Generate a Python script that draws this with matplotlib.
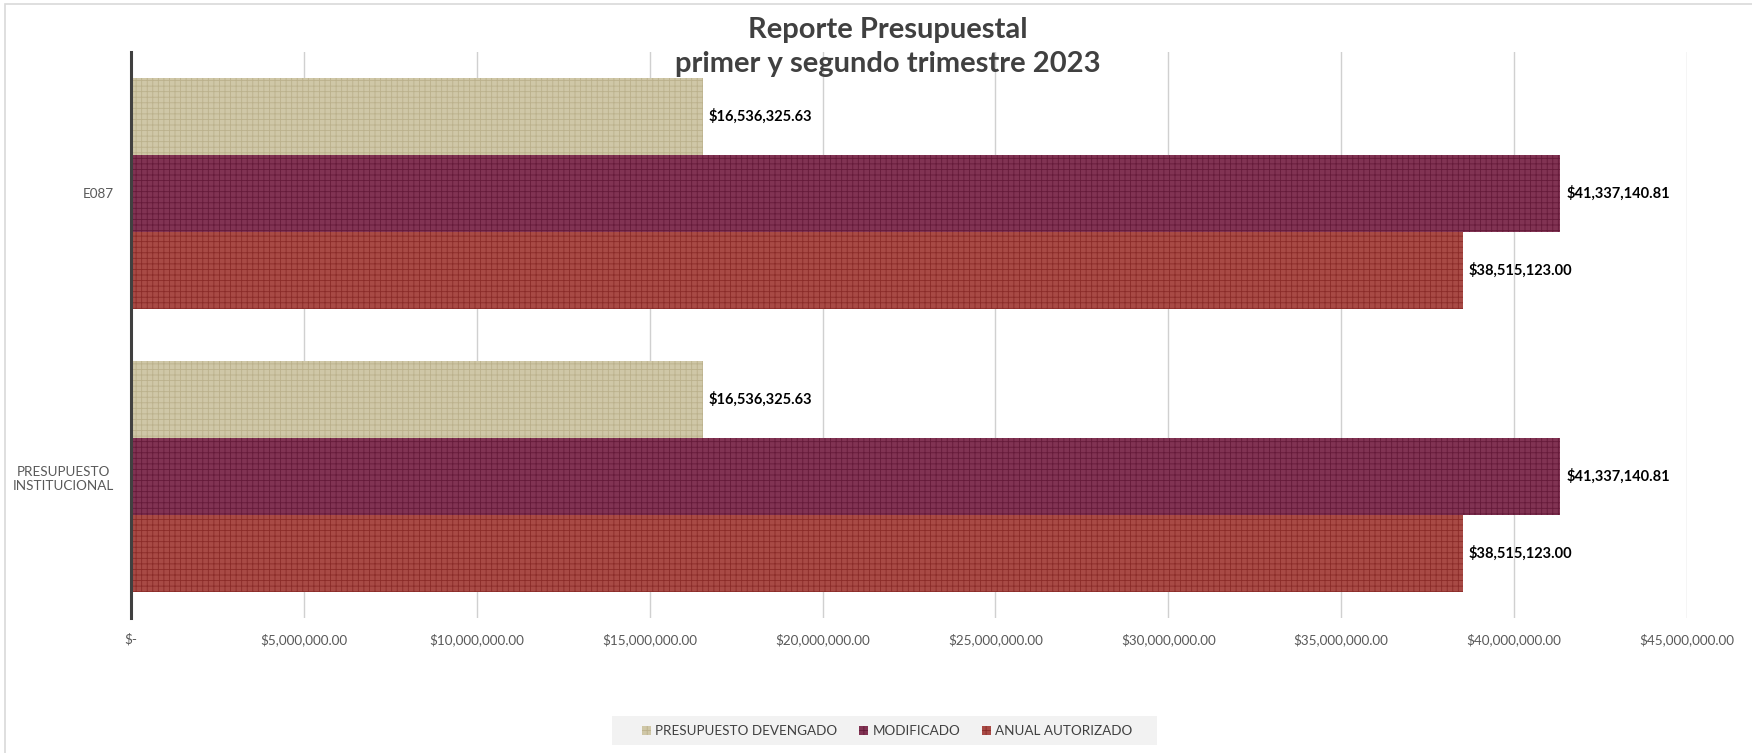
import numpy as np
import matplotlib
matplotlib.use("Agg")
import matplotlib.pyplot as plt
from matplotlib.patches import Patch, Rectangle

# data
categories = ["PRESUPUESTO\nINSTITUCIONAL", "E087"]
series_names = ["PRESUPUESTO DEVENGADO", "MODIFICADO", "ANUAL AUTORIZADO"]
devengado = [16536325.63, 16536325.63]
modificado = [41337140.81, 41337140.81]
anual_autorizado = [38515123.00, 38515123.00]
x_ticks = [0, 5e6, 10e6, 15e6, 20e6, 25e6, 30e6, 35e6, 40e6, 45e6]

# face colour, hatch colour
face_colors = ["#CFC7A7", "#813353", "#A84A45"]
hatch_colors = ["#BBB18C", "#651A39", "#8A2B28"]

plt.rcParams['font.family'] = ['Lato', 'DejaVu Sans']
plt.rcParams['hatch.linewidth'] = 0.6

fig = plt.figure(figsize=(17.52, 7.53), dpi=100)
ax = fig.add_axes([131/1752, 135/753, 1556/1752, 566/753])

y = np.arange(len(categories))
h = 0.272
values = [devengado, modificado, anual_autorizado]
offsets = [h, 0, -h]

for vals, off, fc, hc in zip(values, offsets, face_colors, hatch_colors):
    bars = ax.barh(y + off, vals, height=h, color=fc, edgecolor=hc,
                   hatch='+++', linewidth=0, zorder=2)
    for b, v in zip(bars, vals):
        ax.annotate(f"${v:,.2f}", (v, b.get_y() + b.get_height()/2),
                    xytext=(4.5, 0), textcoords='offset points',
                    va='center', ha='left', fontsize=10.5,
                    fontweight='bold', color='black')

ax.set_xlim(0, 45e6)
ax.set_ylim(-0.5, 1.5)
ax.set_xticks(x_ticks)
ax.set_xticklabels(["$-" if t == 0 else f"${t:,.2f}" for t in x_ticks])
ax.set_yticks(y)
ax.set_yticklabels(categories, multialignment='center')
ax.tick_params(axis='both', length=0, labelsize=9.7, labelcolor='#595959')
ax.tick_params(axis='x', pad=11)
ax.tick_params(axis='y', pad=12)

ax.grid(axis='x', color='#D0D0D0', linewidth=1, zorder=0)
ax.set_axisbelow(True)
for s in ['top', 'right', 'bottom']:
    ax.spines[s].set_visible(False)
ax.spines['left'].set_color('#404040')
ax.spines['left'].set_linewidth(2.2)
ax.spines['left'].set_zorder(3)

fig.text(0.507, 1 - 47/753, "Reporte Presupuestal\nprimer y segundo trimestre 2023",
         ha='center', va='center', fontsize=21, fontweight='bold',
         color='#404040', linespacing=1.38)

# legend background band
fig.patches.append(Rectangle((612/1752, 8/753), 545/1752, 29/753,
                             transform=fig.transFigure, facecolor='#F2F2F2',
                             edgecolor='none', zorder=0))
handles = [Patch(facecolor=fc, edgecolor=hc, hatch='+++', linewidth=0)
           for fc, hc in zip(face_colors, hatch_colors)]
leg = fig.legend(handles, series_names, loc='center',
                 bbox_to_anchor=(887/1752, 22/753), ncol=3, fontsize=9.7,
                 frameon=False, handlelength=0.7,
                 handleheight=0.7, handletextpad=0.3, columnspacing=1.6,
                 borderpad=0.3)
for t in leg.get_texts():
    t.set_color('#404040')

# chart area border (cropped at right and bottom)
fig.patches.append(Rectangle((5/1752, -0.1), 1.2, 1 - 4/753 + 0.1,
                             transform=fig.transFigure, fill=False,
                             edgecolor='#D9D9D9', linewidth=1.2))

fig.savefig("out.png", dpi=100)
